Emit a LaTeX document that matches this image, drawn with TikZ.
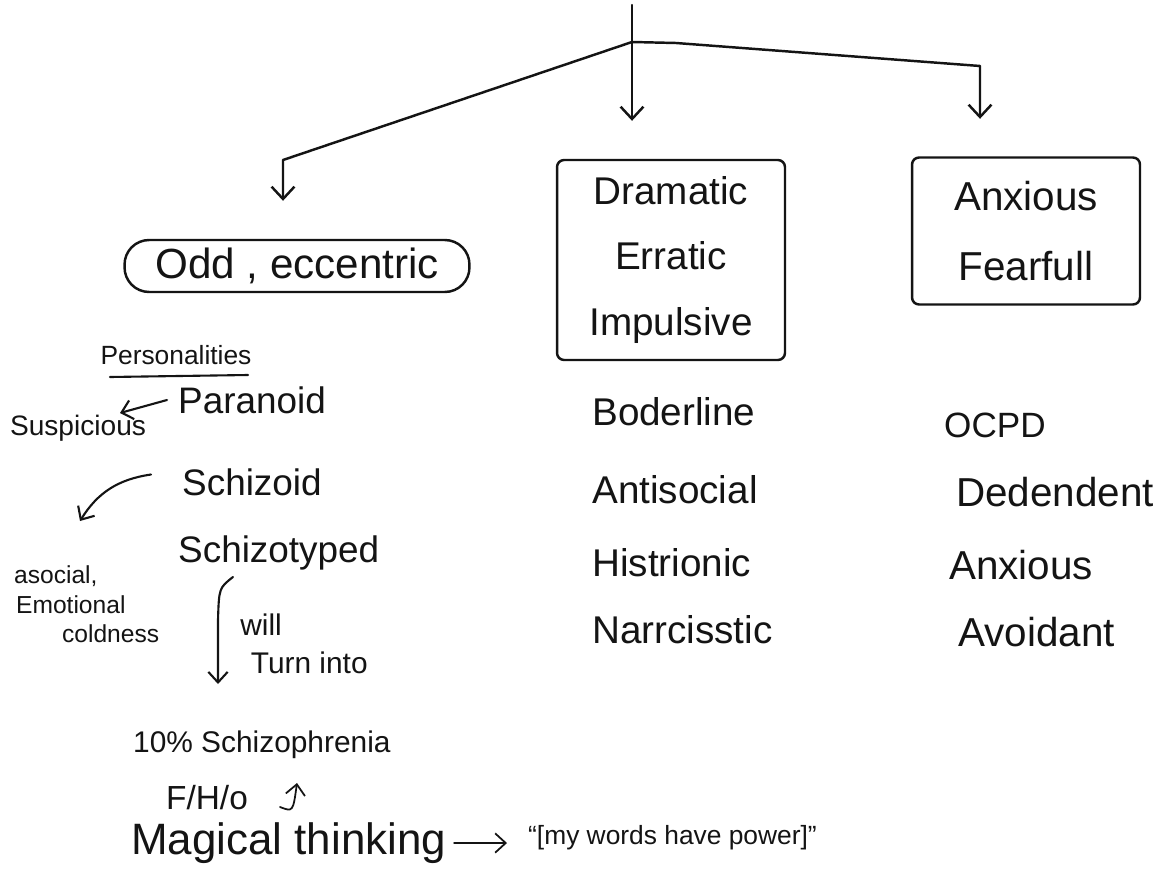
\documentclass[tikz,border=0pt]{standalone}
\usepackage{fontspec}
\setmainfont{Liberation Sans}
\usetikzlibrary{arrows.meta, calc}

\begin{document}
\begin{tikzpicture}[x=0.02cm, y=-0.02cm]
    % Define pen colour
    \definecolor{inkColour}{HTML}{141414}

    \tikzset{
        pen/.style={draw=inkColour, line width=1.4pt, line cap=round, line join=round},
        arr/.style={pen, -{Straight Barb[length=7pt, width=13pt]}},
        arrs/.style={pen, line width=1.2pt, -{Straight Barb[length=6pt, width=11pt]}},
        huge/.style={text=inkColour, font=\fontsize{24}{28}\selectfont},
        big/.style={text=inkColour, font=\fontsize{22}{26}\selectfont},
        mid/.style={text=inkColour, font=\fontsize{17}{20}\selectfont},
        small/.style={text=inkColour, font=\fontsize{15}{17}\selectfont}
    }

    % Page
    \fill[white] (0,0) rectangle (1175,895);
    \useasboundingbox (0,0) rectangle (1175,895);

    % Cluster boxes
    \node[pen, huge, rounded corners=14pt, minimum width=6.9cm, minimum height=1.04cm] (odd) at (297,266) {Odd , eccentric};
    \node[pen, big, rounded corners=4pt, minimum width=4.56cm, minimum height=4cm, align=center] (dram) at (671,260)
        {Dramatic\\[11pt]Erratic\\[11pt]Impulsive};
    \node[pen, font=\fontsize{23}{27}\selectfont, text=inkColour, rounded corners=4pt, minimum width=4.56cm, minimum height=2.94cm, align=center] (anx) at (1026,231)
        {Anxious\\[13pt]Fearfull};

    % Branching from the top
    \coordinate (top) at (632,5);
    \coordinate (junc) at (632,42);
    \coordinate (lbend) at (283,160);
    \coordinate (rknee) at (676,43);
    \coordinate (rbend) at (980,66);

    \draw[pen] (top) -- (junc);
    \draw[arr, shorten >=0.76cm] (junc) -- (lbend) -- (lbend |- odd.north);
    \draw[arr, shorten >=0.76cm] (junc) -- (junc |- dram.north);
    \draw[arr, shorten >=0.75cm] (junc) -- (rknee) -- (rbend) -- (rbend |- anx.north);

    % Odd, eccentric column
    \node[small] (pers) at (176,355) {Personalities};
    \draw[pen, line width=1.2pt] (110,377) -- (248,375);

    \node[big, font=\fontsize{21}{25}\selectfont, anchor=west] (para) at (172,400) {Paranoid};
    \node[big, font=\fontsize{21}{25}\selectfont, anchor=west] (schd) at (176,482) {Schizoid};
    \node[big, font=\fontsize{21}{25}\selectfont, anchor=west] (scht) at (172,553) {Schizotyped};

    \node[small, font=\fontsize{16}{19}\selectfont] (susp) at (78,428) {Suspicious};
    \coordinate (suspTip) at (120,413);
    \draw[arrs] ([xshift=-0.1cm]para.west) -- (suspTip);

    \node[small, font=\fontsize{14}{17}\selectfont, anchor=west, inner sep=1pt] (asoc) at (12,576) {asocial,};
    \node[small, font=\fontsize{14}{17}\selectfont, anchor=west, inner sep=1pt] (emot) at (14,605) {Emotional};
    \node[small, font=\fontsize{14}{17}\selectfont, anchor=west, inner sep=1pt] (cold) at (60,634) {coldness};
    \coordinate (coldTip) at (80,521);
    \draw[arrs] ([xshift=-0.5cm, yshift=0.15cm]schd.west) to[bend right=25] (coldTip);

    \coordinate (turnTop) at (233,577);
    \coordinate (turnEnd) at (218,684);
    \draw[arrs] (turnTop) .. controls (219,588) .. (218,620) -- (turnEnd);
    \node[small, font=\fontsize{17}{22}\selectfont, anchor=north west, align=left, inner sep=0pt] (turn) at (240,613)
        {will\\\hspace{6pt}Turn into};

    \node[mid, anchor=west] (schizo) at (127,745) {10\% Schizophrenia};
    \node[mid, font=\fontsize{19}{22}\selectfont, anchor=west] (fho) at (160,798) {F/H/o};
    \coordinate (curlStart) at (280,807);
    \coordinate (curlTip) at (297,783);
    \draw[arrs, line width=1pt] (curlStart) .. controls (293,812) .. (curlTip);

    \node[huge, font=\fontsize{25}{29}\selectfont, anchor=west] (magic) at (125,843) {Magical thinking};
    \node[small, anchor=west] (power) at (522,838) {``[my words have power]''};
    \draw[arrs, line width=1pt, shorten <=1pt, shorten >=0.3cm] (magic.east) -- (power.west |- magic.east);

    % Dramatic, erratic column
    \foreach \y/\txt [count=\i] in {412/Boderline, 490/Antisocial, 563/Histrionic, 630/Narrcisstic}
        \node[big, anchor=west] (clusterB-\i) at (586,\y) {\txt};

    % Anxious, fearful column
    \node[big, font=\fontsize{20}{24}\selectfont, anchor=west] (clusterC-1) at (938,425) {OCPD};
    \foreach \x/\y/\txt [count=\i from 2] in {950/492/Dedendent, 943/565/Anxious, 952/632/Avoidant}
        \node[big, font=\fontsize{23}{27}\selectfont, anchor=west] (clusterC-\i) at (\x,\y) {\txt};

\end{tikzpicture}
\end{document}
